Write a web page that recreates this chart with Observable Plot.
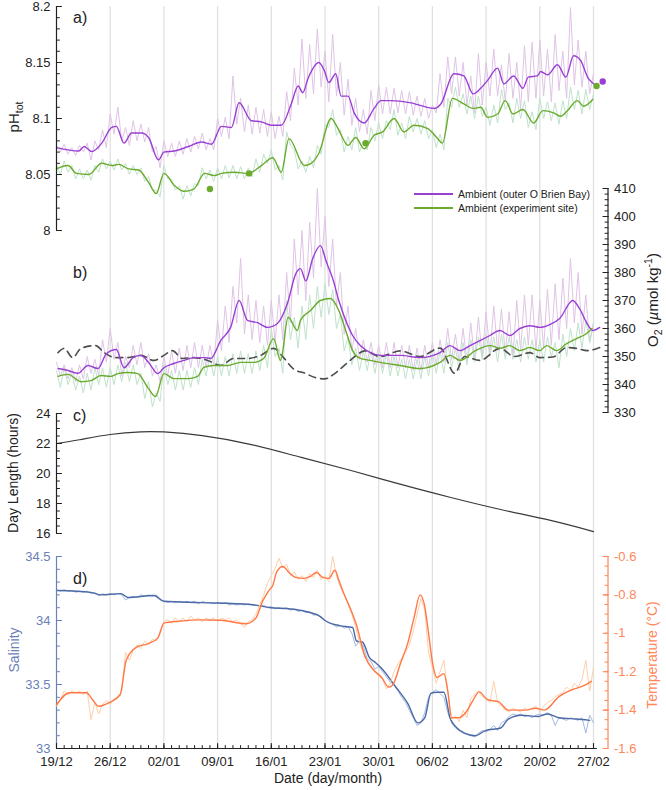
<!DOCTYPE html>
<html><head><meta charset="utf-8">
<script src="https://cdn.jsdelivr.net/npm/d3@7"></script>
<script src="https://cdn.jsdelivr.net/npm/@observablehq/plot@0.6"></script>
<style>
body{margin:0;background:#fff;font-family:"Liberation Sans",Arial,Helvetica,sans-serif;}
#wrap{position:relative;width:666px;height:790px;overflow:hidden;background:#fff;}
#wrap svg{position:absolute;left:0;top:0;overflow:visible;}
.lab{position:absolute;white-space:nowrap;line-height:1;}
.lab sub,.lab sup{font-size:70%;line-height:0;}
</style></head><body><div id="wrap"></div><script>
// ---------- tick definitions ----------
const xTickDays = [0,7,14,21,28,35,42,49,56,63,70];
const xTickLabels = ["19/12","26/12","02/01","09/01","16/01","23/01","30/01","06/02","13/02","20/02","27/02"];
const phTicks = [8,8.05,8.1,8.15,8.2];
const phTickLabels = ["8","8.05","8.1","8.15","8.2"];
const o2Ticks = [330,340,350,360,370,380,390,400,410];
const o2TickLabels = ["330","340","350","360","370","380","390","400","410"];
const dayLenTicks = [16,18,20,22,24];
const dayLenTickLabels = ["16","18","20","22","24"];
const salTicks = [33,33.5,34,34.5];
const salTickLabels = ["33","33.5","34","34.5"];
const tempTicks = [-1.6,-1.4,-1.2,-1,-0.8,-0.6];
const tempTickLabels = ["-1.6","-1.4","-1.2","-1","-0.8","-0.6"];
const seriesNames = ["Ambient (outer O Brien Bay)","Ambient (experiment site)"];

// ---------- data (day since 19/12, value) ----------
const rawStepDays = 0.5;
const phOuterRaw = [
8.076,8.070,8.077,8.068,8.074,8.067,8.076,8.070,8.078,8.063,
8.080,8.072,8.090,8.074,8.104,8.086,8.110,8.080,8.092,8.076,
8.098,8.080,8.095,8.079,8.092,8.070,8.075,8.056,8.080,8.066,
8.078,8.066,8.080,8.068,8.082,8.070,8.084,8.073,8.087,8.072,
8.082,8.072,8.100,8.084,8.101,8.082,8.138,8.095,8.118,8.088,
8.112,8.086,8.110,8.087,8.108,8.084,8.106,8.082,8.102,8.084,
8.124,8.098,8.145,8.112,8.171,8.118,8.166,8.122,8.180,8.128,
8.160,8.115,8.175,8.120,8.150,8.103,8.135,8.094,8.118,8.088,
8.108,8.086,8.125,8.098,8.130,8.104,8.128,8.104,8.127,8.105,
8.125,8.104,8.124,8.103,8.120,8.102,8.118,8.100,8.112,8.105,
8.140,8.110,8.155,8.122,8.155,8.120,8.150,8.112,8.138,8.105,
8.158,8.112,8.150,8.120,8.162,8.120,8.148,8.115,8.158,8.118,
8.150,8.108,8.165,8.115,8.168,8.118,8.170,8.120,8.162,8.115,
8.175,8.125,8.160,8.118,8.199,8.130,8.170,8.128,8.160,8.122,
8.140];
const phSiteRaw = [
8.058,8.050,8.062,8.052,8.058,8.046,8.055,8.046,8.054,8.045,
8.058,8.052,8.064,8.055,8.062,8.054,8.064,8.054,8.060,8.050,
8.058,8.050,8.056,8.044,8.048,8.036,8.036,8.030,8.058,8.046,
8.046,8.036,8.040,8.028,8.040,8.031,8.042,8.040,8.056,8.046,
8.054,8.044,8.056,8.046,8.058,8.047,8.058,8.046,8.057,8.046,
8.056,8.048,8.064,8.052,8.068,8.060,8.072,8.054,8.058,8.045,
8.088,8.076,8.072,8.055,8.062,8.052,8.066,8.056,8.076,8.068,
8.095,8.092,8.108,8.085,8.090,8.070,8.084,8.072,8.092,8.070,
8.080,8.072,8.092,8.080,8.096,8.082,8.098,8.090,8.108,8.085,
8.096,8.082,8.102,8.088,8.100,8.086,8.098,8.082,8.090,8.074,
8.086,8.072,8.118,8.110,8.128,8.110,8.122,8.104,8.120,8.100,
8.120,8.102,8.110,8.094,8.112,8.096,8.126,8.108,8.114,8.096,
8.118,8.100,8.116,8.092,8.106,8.090,8.118,8.100,8.115,8.098,
8.114,8.095,8.116,8.100,8.128,8.108,8.125,8.104,8.126,8.108,
8.122];
const phOuterSmooth = [[0,8.074],[2.9,8.071],[3.6,8.075],[4.6,8.0705],[5.9,8.078],[7.2,8.092],[7.8,8.093],[8.8,8.078],[9.8,8.087],[11.1,8.087],[12,8.083],[13.3,8.063],[14,8.070],[15.4,8.071],[17.2,8.075],[18.9,8.079],[20.2,8.077],[21.5,8.093],[22.8,8.092],[23.8,8.114],[25.4,8.098],[26.7,8.097],[28,8.094],[29.3,8.094],[30.6,8.113],[31.5,8.129],[32.1,8.123],[32.8,8.136],[34.2,8.150],[34.9,8.143],[35.5,8.132],[36.4,8.140],[37.1,8.120],[38,8.120],[38.8,8.105],[40.1,8.096],[41.4,8.109],[42.3,8.116],[43.6,8.116],[46.2,8.114],[49.2,8.109],[50.1,8.113],[51.8,8.140],[53.1,8.138],[54.3,8.122],[55.3,8.127],[56.2,8.134],[57.5,8.145],[58.3,8.131],[59.6,8.138],[60.8,8.127],[61.5,8.137],[62.7,8.138],[63.1,8.142],[64,8.139],[65.3,8.148],[66.4,8.137],[67.4,8.156],[68.3,8.152],[69.3,8.136],[70,8.131]];
const phSiteSmooth = [[0,8.055],[1.5,8.058],[2.6,8.051],[4.2,8.050],[5.9,8.060],[7.2,8.058],[8.1,8.059],[9.4,8.055],[10.7,8.054],[12,8.043],[13,8.033],[14,8.051],[15.4,8.040],[16.6,8.035],[17.9,8.037],[19.3,8.051],[20.6,8.049],[21.5,8.051],[23.2,8.052],[25,8.051],[26.7,8.058],[28.2,8.065],[29.3,8.052],[30.3,8.082],[32.3,8.058],[33.2,8.060],[34.2,8.069],[35.8,8.100],[36.7,8.091],[38,8.076],[39,8.083],[40.1,8.073],[41.4,8.085],[42.5,8.088],[44,8.100],[45.3,8.088],[46.6,8.094],[48.4,8.091],[49.7,8.082],[50.3,8.078],[51.6,8.118],[53.1,8.113],[54.3,8.109],[55.3,8.110],[56.2,8.101],[57.5,8.104],[58.5,8.116],[59.5,8.104],[60.8,8.108],[62.2,8.096],[63.4,8.107],[64.8,8.105],[65.7,8.102],[66.6,8.107],[67.9,8.116],[68.7,8.111],[69.9,8.117]];
const phSiteSamples = [[20.0,8.037],[25.1,8.051],[40.3,8.078],[70.4,8.129]];
const phOuterSamples = [[71.2,8.133]];

const o2OuterRaw = [
348,343,347,342,346,341,347,342,350,344,
349,343,356,348,360,349,355,343,350,346,
354,347,355,346,351,343,347,341,350,343,
352,344,353,345,354,346,355,346,354,346,
354,347,363,352,368,355,375,362,385,358,
372,356,370,355,368,354,370,355,372,356,
380,362,392,372,395,370,398,378,410,382,
400,375,392,368,380,358,368,352,360,349,
356,348,355,347,354,346,355,346,355,346,
354,346,354,345,353,345,354,346,355,347,
356,348,360,349,358,348,360,348,362,349,
364,350,366,351,368,352,367,351,366,350,
370,352,372,354,372,352,370,353,374,354,
376,356,378,360,385,362,380,358,372,355,
362];
const o2SiteRaw = [
345,339,346,340,344,338,343,337,344,338,
346,340,346,339,346,340,347,341,348,341,
347,340,344,335,341,332,337,334,347,340,
345,338,345,338,345,339,346,340,349,343,
350,343,350,343,350,343,351,344,352,344,
351,344,352,345,354,346,360,350,353,344,
370,356,364,353,368,356,372,360,375,364,
376,365,374,360,365,352,357,347,353,345,
352,345,352,344,351,344,351,343,350,343,
349,342,349,342,349,342,350,343,351,344,
352,344,355,346,353,345,355,347,356,348,
357,349,358,350,357,348,358,349,357,349,
356,348,357,349,356,348,356,348,357,350,
355,346,358,350,360,352,362,353,363,355,
362];
const o2OuterSmooth = [[0.2,345.7],[1.5,345],[2.8,344],[4.1,346.8],[5.4,345.7],[6.5,351],[7.8,352.5],[8.8,346],[10,349.6],[11,350.4],[12.1,347.5],[13.2,343.9],[14,346],[15.3,347.5],[16.6,348.6],[17.9,349.6],[19.2,349.6],[20.1,349.3],[21.4,355.7],[22.7,360.4],[23.8,370],[24.9,362.9],[26.2,362.1],[27.5,360.4],[28.8,361.8],[30.1,368.9],[31.2,379.6],[31.8,381.4],[32.5,377],[33.4,385],[34.4,389.6],[35.2,383.6],[36,377.9],[36.8,370],[37.7,362.9],[38.6,357.5],[39.6,353.9],[40.9,351.4],[42.2,350.4],[44.8,350.4],[47.4,349.6],[50,351.4],[51.3,353.9],[52.6,352.1],[53.9,353.9],[55.2,355.7],[56.5,357.5],[57.8,359.3],[59.1,357.5],[60.4,360],[61.7,361],[63,360.4],[64.3,361.4],[65.6,363.6],[67.3,370],[68.2,367],[69.1,362.1],[69.9,359.3],[70.8,360.4]];
const o2SiteSmooth = [[0.2,342.9],[1.5,343.6],[3.2,341],[4.5,341.4],[5.8,343.2],[7.1,342.9],[8,343.9],[9.3,344.3],[10.6,343.9],[11.9,338.9],[12.9,335.7],[14,343.9],[15.3,342.1],[17.1,342.1],[18.4,342.9],[19.2,346.1],[20.5,346.8],[22.3,346.8],[24,347.9],[25.7,347.9],[27,349.3],[28.3,356.4],[29.2,348.6],[30.2,364],[31.4,359.3],[31.8,362.9],[33.1,366.4],[34.4,370],[35.7,370.7],[36.8,366.4],[37.7,359.3],[38.6,352.1],[39.6,349.3],[40.9,348.6],[42.2,347.9],[44.8,346.8],[47.4,345.7],[50,347.9],[51.3,350.4],[52.6,348.6],[54.6,352.1],[56.5,353.9],[57.8,352.9],[59.1,353.9],[60.4,352.1],[61.7,353.2],[63,352.1],[63.9,353.9],[65.2,352.1],[66.5,354.6],[67.8,356.4],[69.1,358.2],[69.8,360]];
const o2Dashed = [[0.2,351.4],[1,352.9],[2.1,349.6],[3.2,352.9],[5.1,353.9],[6.2,351.4],[7.7,349.6],[9.3,349.6],[11,350.4],[12.7,348.6],[14,350.4],[15.1,352.1],[16.4,349.3],[17.9,349.6],[19.7,348.6],[21.4,346.8],[23.1,349.3],[24.9,349.3],[26.6,350.4],[28.3,352.9],[29.6,349.6],[30.9,345.5],[32.4,344],[33.7,342.5],[35,342],[36.3,344],[37.6,347],[38.9,350],[40.2,352],[42.2,350],[44.8,352],[47.4,350],[50,353],[51.9,344],[53.2,350],[55.2,348.6],[57.8,352.9],[59.7,350],[61.7,351.4],[63,349.6],[64.7,349.8],[66.5,353.2],[67.8,352.9],[69.2,352.1],[70.8,353.2]];

const dayLength = [[0,22.0],[3,22.25],[7,22.6],[11,22.78],[14,22.77],[19,22.53],[25.4,21.93],[31.9,21.07],[38.4,20.2],[44.9,19.27],[51.4,18.4],[57.9,17.6],[64.4,16.87],[70,16.13]];

const salinityRaw = [
34.24,34.23,34.24,34.23,34.235,34.22,34.23,34.22,34.23,34.21,
34.22,34.19,34.21,34.20,34.21,34.20,34.21,34.20,34.16,34.18,
34.19,34.18,34.20,34.19,34.20,34.19,34.20,34.17,34.15,34.14,
34.15,34.14,34.15,34.14,34.15,34.14,34.15,34.13,34.15,34.14,
34.14,34.13,34.14,34.13,34.14,34.12,34.13,34.12,34.13,34.12,
34.13,34.12,34.12,34.11,34.12,34.10,34.11,34.09,34.10,34.09,
34.10,34.08,34.09,34.07,34.08,34.06,34.07,34.04,34.05,34.02,
34.00,33.98,33.97,33.95,33.96,33.94,33.95,33.90,33.80,33.84,
33.80,33.70,33.68,33.62,33.64,33.60,33.56,33.52,33.50,33.45,
33.40,33.36,33.30,33.24,33.18,33.20,33.28,33.40,33.44,33.46,
33.43,33.40,33.28,33.20,33.16,33.14,33.12,33.11,33.10,33.09,
33.12,33.14,33.13,33.15,33.18,33.14,33.20,33.22,33.25,33.27,
33.26,33.27,33.25,33.26,33.24,33.26,33.27,33.26,33.28,33.26,
33.18,33.24,33.23,33.22,33.24,33.23,33.22,33.24,33.12,33.26,
33.20];
const salinitySmooth = [[0,34.234],[4.5,34.22],[5.8,34.20],[8.4,34.21],[9.3,34.18],[12.7,34.195],[14,34.15],[18.8,34.14],[25.3,34.125],[27.9,34.10],[30.5,34.09],[32.5,34.07],[34.4,34.03],[35,34.0],[36.9,33.96],[38.6,33.945],[39.1,33.84],[39.9,33.83],[40.8,33.71],[41.6,33.67],[42.4,33.625],[44.1,33.49],[45.8,33.35],[47.1,33.2],[48,33.24],[48.8,33.43],[49.6,33.44],[50.5,33.44],[51.3,33.24],[52.2,33.16],[53.2,33.12],[54.6,33.10],[55.9,33.14],[57.9,33.16],[58.9,33.23],[60.6,33.26],[62.8,33.25],[64,33.27],[65.5,33.24],[67.8,33.23],[69.5,33.22]];
const temperatureRaw = [
-1.38,-1.35,-1.30,-1.32,-1.30,-1.31,-1.30,-1.32,-1.30,-1.45,
-1.36,-1.42,-1.37,-1.35,-1.37,-1.34,-1.33,-1.30,-1.10,-1.14,
-1.09,-1.06,-1.08,-1.04,-1.06,-1.03,-1.04,-1.00,-0.94,-0.93,
-0.95,-0.92,-0.94,-0.92,-0.94,-0.91,-0.93,-0.92,-0.94,-0.92,
-0.93,-0.92,-0.94,-0.92,-0.93,-0.92,-0.94,-0.93,-0.95,-0.97,
-0.94,-0.93,-0.90,-0.85,-0.80,-0.74,-0.70,-0.66,-0.61,-0.66,
-0.64,-0.70,-0.68,-0.72,-0.70,-0.73,-0.69,-0.71,-0.67,-0.72,
-0.70,-0.73,-0.60,-0.70,-0.76,-0.80,-0.85,-0.90,-0.97,-1.05,
-1.10,-1.14,-1.17,-1.20,-1.22,-1.24,-1.29,-1.26,-1.20,-1.16,
-1.13,-1.10,-1.06,-0.99,-0.90,-0.82,-0.88,-1.10,-1.18,-1.26,
-1.20,-1.14,-1.30,-1.45,-1.43,-1.46,-1.40,-1.44,-1.34,-1.32,
-1.30,-1.33,-1.34,-1.36,-1.25,-1.36,-1.38,-1.40,-1.41,-1.39,
-1.40,-1.41,-1.39,-1.40,-1.39,-1.38,-1.41,-1.38,-1.36,-1.35,
-1.33,-1.32,-1.31,-1.28,-1.30,-1.26,-1.28,-1.24,-1.14,-1.30,
-1.18];
const temperatureSmooth = [[0,-1.372],[1.7,-1.31],[3.9,-1.31],[4.7,-1.346],[5.5,-1.38],[6.9,-1.36],[8.3,-1.32],[9.1,-1.139],[10.5,-1.071],[11.8,-1.056],[13.2,-1.025],[14,-0.947],[16,-0.937],[18.8,-0.93],[21.4,-0.932],[24.7,-0.95],[26,-0.92],[26.9,-0.83],[27.7,-0.776],[28.2,-0.75],[28.7,-0.68],[29.5,-0.652],[30.3,-0.683],[31.2,-0.709],[32.2,-0.714],[33.1,-0.704],[33.9,-0.683],[34.7,-0.709],[35.5,-0.714],[36.3,-0.672],[36.8,-0.724],[37.4,-0.787],[38.3,-0.87],[39.1,-0.957],[40.2,-1.12],[41.3,-1.19],[42.4,-1.23],[43.3,-1.28],[43.8,-1.27],[44.9,-1.15],[45.8,-1.05],[46.6,-0.92],[47.4,-0.80],[48,-0.86],[48.5,-1.0],[49,-1.15],[49.6,-1.23],[50.5,-1.21],[51,-1.30],[51.5,-1.44],[52.4,-1.44],[53.4,-1.41],[54.2,-1.356],[55.1,-1.305],[56.2,-1.346],[57.6,-1.356],[58.9,-1.40],[61.1,-1.40],[62.5,-1.39],[63.6,-1.40],[65.5,-1.33],[67.2,-1.294],[68.9,-1.27],[69.7,-1.25]];

// ---------- layout ----------
const W = 666, H = 790, ML = 56, XMAX = 70.5, PXDAY = 537/70;
const MR = W - (ML + XMAX*PXDAY);
const RDX = 607.5 - (ML + XMAX*PXDAY);
const FONT = "'Liberation Sans', Arial, Helvetica, sans-serif";
const C = {
  purple:"#9a3fd3", purpleRaw:"#e0c4e6", green:"#6aab2d", greenRaw:"#bfe3ca",
  dash:"#4d4d4d", sal:"#4b69a6", salRaw:"#a4b9e0", salAxis:"#6a80b8",
  temp:"#ff7846", tempRaw:"#ffcfa8", tempAxis:"#ff8758", grid:"#e0e0e0", ink:"#222"
};
const wrap = document.getElementById("wrap");
const tickLine = {draw(c, l){ c.moveTo(0,0); c.lineTo(0,-l); }};
const dayOf = (d,i) => i*rawStepDays;

function mk(top, bottom, ydom, marks){
  const svg = Plot.plot({
    width:W, height:H, marginLeft:ML, marginRight:MR, marginTop:top, marginBottom:H-bottom,
    x:{domain:[0,XMAX], axis:null}, y:{domain:ydom, axis:null},
    style:{background:"transparent", fontFamily:FONT, fontSize:"13px", color:C.ink, overflow:"visible"},
    marks
  });
  wrap.appendChild(svg);
  return svg;
}
function yAxis(ydom, major, labels, minor, side, color){
  const left = side === "left";
  const dx = left ? 0 : RDX;
  return [
    Plot.ruleX([left ? 0 : XMAX], {y1:ydom[0], y2:ydom[1], stroke:color, strokeWidth:1.2, dx}),
    Plot.vector(major, {y:d=>d, frameAnchor:side, rotate:left?90:-90, length:5, anchor:"start", shape:tickLine, stroke:color, strokeWidth:1.1, dx}),
    Plot.vector(minor, {y:d=>d, frameAnchor:side, rotate:left?90:-90, length:3, anchor:"start", shape:tickLine, stroke:color, strokeWidth:1, dx}),
    Plot.text(major, {y:d=>d, text:(d,i)=>labels[i], frameAnchor:side, textAnchor:left?"end":"start", dx:left?-6:dx+6, fontSize:13, fill:color})
  ];
}
const rng = (a,b,s) => d3.range(Math.round((b-a)/s)+1).map(i => +(a+i*s).toFixed(4));

// grid
mk(6, 748, [0,1], [Plot.ruleX(xTickDays.slice(1), {stroke:C.grid, strokeWidth:1.3})]);

// panel a: pH
mk(6, 230, [8,8.2], [
  Plot.line(phOuterRaw, {x:dayOf, y:d=>d, stroke:C.purpleRaw, strokeWidth:1}),
  Plot.line(phSiteRaw, {x:dayOf, y:d=>d, stroke:C.greenRaw, strokeWidth:1}),
  Plot.line(phOuterSmooth, {x:d=>d[0], y:d=>d[1], stroke:C.purple, strokeWidth:1.4, curve:"monotone-x"}),
  Plot.line(phSiteSmooth, {x:d=>d[0], y:d=>d[1], stroke:C.green, strokeWidth:1.4, curve:"monotone-x"}),
  Plot.dot(phSiteSamples, {x:d=>d[0], y:d=>d[1], r:3.2, fill:C.green}),
  Plot.dot(phOuterSamples, {x:d=>d[0], y:d=>d[1], r:3.2, fill:C.purple}),
  ...yAxis([8,8.2], phTicks, phTickLabels, rng(8,8.2,0.01), "left", C.ink)
]);

// panel b: O2
mk(188, 412, [330,410], [
  Plot.line(o2OuterRaw, {x:dayOf, y:d=>d, stroke:C.purpleRaw, strokeWidth:1}),
  Plot.line(o2SiteRaw, {x:dayOf, y:d=>d, stroke:C.greenRaw, strokeWidth:1}),
  Plot.line(o2Dashed, {x:d=>d[0], y:d=>d[1], stroke:C.dash, strokeWidth:1.6, strokeDasharray:"7,5", curve:"monotone-x"}),
  Plot.line(o2OuterSmooth, {x:d=>d[0], y:d=>d[1], stroke:C.purple, strokeWidth:1.4, curve:"monotone-x"}),
  Plot.line(o2SiteSmooth, {x:d=>d[0], y:d=>d[1], stroke:C.green, strokeWidth:1.4, curve:"monotone-x"}),
  ...yAxis([330,410], o2Ticks, o2TickLabels, rng(330,410,2), "right", C.ink)
]);

// panel c: day length
mk(413, 533, [16,24], [
  Plot.line(dayLength, {x:d=>d[0], y:d=>d[1], stroke:"#3a3a3a", strokeWidth:1.2, curve:"natural"}),
  ...yAxis([16,24], dayLenTicks, dayLenTickLabels, rng(16,24,0.5), "left", C.ink)
]);

// panel d: salinity
mk(556, 748, [33,34.5], [
  Plot.line(salinityRaw, {x:dayOf, y:d=>d, stroke:C.salRaw, strokeWidth:1}),
  Plot.line(salinitySmooth, {x:d=>d[0], y:d=>d[1], stroke:C.sal, strokeWidth:1.4, curve:"monotone-x"}),
  ...yAxis([33,34.5], salTicks, salTickLabels, rng(33,34.5,0.1), "left", C.salAxis),
  Plot.ruleY([33], {stroke:"#222", strokeWidth:1.2}),
  Plot.vector(xTickDays, {x:d=>d, frameAnchor:"bottom", rotate:0, length:5, anchor:"start", shape:tickLine, stroke:"#222", strokeWidth:1.1}),
  Plot.vector(d3.range(0,71), {x:d=>d, frameAnchor:"bottom", rotate:0, length:3, anchor:"start", shape:tickLine, stroke:"#222", strokeWidth:1}),
  Plot.text(xTickDays, {x:d=>d, text:(d,i)=>xTickLabels[i], frameAnchor:"bottom", lineAnchor:"top", dy:8, fontSize:13, fill:C.ink})
]);

// panel d: temperature (right axis)
mk(556, 748, [-1.6,-0.6], [
  Plot.line(temperatureRaw, {x:dayOf, y:d=>d, stroke:C.tempRaw, strokeWidth:1}),
  Plot.line(temperatureSmooth, {x:d=>d[0], y:d=>d[1], stroke:C.temp, strokeWidth:1.4, curve:"monotone-x"}),
  ...yAxis([-1.6,-0.6], tempTicks, tempTickLabels, rng(-1.6,-0.6,0.05), "right", C.tempAxis)
]);

// ---------- HTML text: titles, panel letters, legend ----------
function label(html, x, y, {size=14, color=C.ink, rot=false, anchor="middle"} = {}){
  const el = document.createElement("div");
  el.className = "lab";
  el.innerHTML = html;
  el.style.left = x+"px"; el.style.top = y+"px";
  el.style.fontSize = size+"px"; el.style.color = color;
  const tx = anchor === "start" ? "0" : "-50%";
  el.style.transform = `translate(${tx},-50%)` + (rot ? " rotate(-90deg)" : "");
  wrap.appendChild(el);
}
label("pH<sub>tot</sub>", 13, 117, {size:15, rot:true});
label("O<sub>2</sub> (<i>µ</i>mol kg<sup>-1</sup>)", 652, 300, {size:15, rot:true});
label("Day Length (hours)", 13, 473, {size:14, rot:true});
label("Salinity", 14, 650, {size:14, rot:true, color:C.salAxis});
label("Temperature (°C)", 652, 655, {size:14, rot:true, color:C.tempAxis});
label("Date (day/month)", 328, 778, {size:14});
label("a)", 73, 18, {size:16, anchor:"start"});
label("b)", 73, 273, {size:16, anchor:"start"});
label("c)", 73, 416, {size:16, anchor:"start"});
label("d)", 73, 579, {size:16, anchor:"start"});

// legend
[[C.purple, 194], [C.green, 208]].forEach(([col, y], i) => {
  const ln = document.createElement("div");
  ln.style.cssText = `position:absolute;left:414px;top:${y-0.75}px;width:39px;height:1.5px;background:${col};`;
  wrap.appendChild(ln);
  label(seriesNames[i], 458, y, {size:10.5, anchor:"start"});
});
</script></body></html>
